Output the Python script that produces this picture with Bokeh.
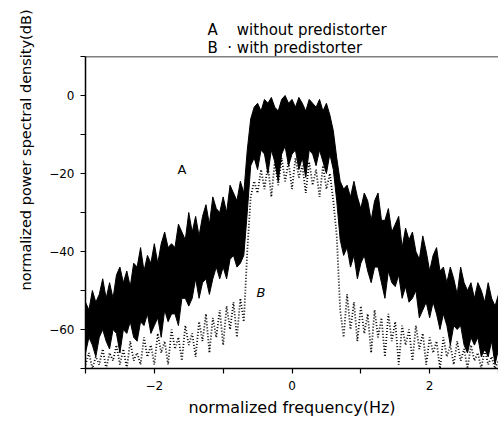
from bokeh.plotting import figure
from bokeh.models import FixedTicker, Span, Title, Label, Range1d
from bokeh.embed import file_html
from bokeh.resources import INLINE

# normalized frequency bins (Hz)
FREQ = [
    -3.00, -2.95, -2.90, -2.85, -2.80, -2.75, -2.70, -2.65, -2.60, -2.55,
    -2.50, -2.45, -2.40, -2.35, -2.30, -2.25, -2.20, -2.15, -2.10, -2.05,
    -2.00, -1.95, -1.90, -1.85, -1.80, -1.75, -1.70, -1.65, -1.60, -1.55,
    -1.50, -1.45, -1.40, -1.35, -1.30, -1.25, -1.20, -1.15, -1.10, -1.05,
    -1.00, -0.95, -0.90, -0.85, -0.80, -0.75, -0.70, -0.65, -0.60, -0.55,
    -0.50, -0.45, -0.40, -0.35, -0.30, -0.25, -0.20, -0.15, -0.10, -0.05,
    0.00, 0.05, 0.10, 0.15, 0.20, 0.25, 0.30, 0.35, 0.40, 0.45,
    0.50, 0.55, 0.60, 0.65, 0.70, 0.75, 0.80, 0.85, 0.90, 0.95,
    1.00, 1.05, 1.10, 1.15, 1.20, 1.25, 1.30, 1.35, 1.40, 1.45,
    1.50, 1.55, 1.60, 1.65, 1.70, 1.75, 1.80, 1.85, 1.90, 1.95,
    2.00, 2.05, 2.10, 2.15, 2.20, 2.25, 2.30, 2.35, 2.40, 2.45,
    2.50, 2.55, 2.60, 2.65, 2.70, 2.75, 2.80, 2.85, 2.90, 2.95,
    3.00,
]

# curve A (without predistorter): upper and lower edge of the noisy trace (dB)
A_UPPER = [
    -53, -55, -50, -53, -51, -47, -52, -48, -52, -46,
    -44, -48, -45, -49, -43, -44, -39, -45, -41, -43,
    -38, -43, -38, -35, -39, -38, -39, -33, -35, -37,
    -30, -35, -31, -36, -31, -28, -33, -26, -29, -30,
    -26, -30, -23, -25, -27, -22, -25, -14, -6, -3,
    -2, -4, -1, -2, -0.5, -3, -4, -1, 0, -2,
    -1, -3, -0.5, -2, -4, -1, -2, -3, -1, -4,
    -2, -5, -9, -16, -22, -24, -23, -26, -22, -26,
    -29, -25, -27, -32, -27, -25, -32, -32, -29, -35,
    -33, -31, -39, -34, -37, -35, -40, -42, -36, -40,
    -45, -41, -39, -45, -44, -48, -44, -47, -51, -44,
    -48, -50, -48, -52, -48, -50, -53, -48, -52, -54,
    -51,
]
A_LOWER = [
    -66, -62, -64, -67, -62, -60, -63, -65, -60, -61,
    -66, -60, -61, -58, -62, -63, -58, -59, -56, -61,
    -59, -57, -62, -55, -58, -56, -56, -59, -52, -52,
    -54, -52, -47, -52, -48, -47, -51, -47, -44, -47,
    -44, -47, -42, -41, -44, -43, -41, -30, -18, -16,
    -19, -14, -15, -20, -14, -17, -22, -15, -13, -18,
    -15, -14, -19, -16, -21, -14, -15, -18, -14, -17,
    -20, -15, -19, -27, -37, -41, -39, -44, -41, -47,
    -43, -41, -45, -48, -44, -44, -48, -52, -45, -48,
    -49, -46, -52, -49, -53, -52, -50, -57, -55, -53,
    -57, -53, -56, -60, -56, -59, -64, -59, -60, -59,
    -64, -66, -62, -64, -62, -67, -65, -67, -63, -69,
    -65,
]

# curve B (with predistorter): dotted noisy trace (dB)
B_TRACE = [
    -69, -66, -70, -67, -69, -65, -70, -66, -68, -64,
    -69, -65, -70, -63, -68, -66, -69, -62, -67, -64,
    -69, -61, -66, -63, -69, -60, -65, -62, -68, -59,
    -64, -61, -67, -58, -63, -56, -66, -57, -62, -55,
    -64, -54, -60, -53, -62, -52, -58, -40, -26, -22,
    -25, -19, -24, -18, -26, -17, -23, -16, -22, -17,
    -24, -16, -21, -18, -25, -17, -23, -19, -26, -18,
    -24, -20, -27, -36, -55, -62, -51, -60, -53, -63,
    -54, -61, -56, -66, -55, -62, -57, -67, -56, -63,
    -58, -69, -59, -64, -60, -68, -59, -65, -61, -69,
    -62, -66, -63, -70, -62, -67, -64, -69, -63, -68,
    -65, -70, -64, -68, -66, -70, -65, -69, -67, -70,
    -68,
]

X_MAJOR = [-2, 0, 2]
X_MINOR = [-3, -1, 1, 3]
Y_MAJOR = [-60, -40, -20, 0]
Y_MINOR = [-70, -50, -30, -10, 10]

FONT = "DejaVu Sans"
NB = "\u00a0"

p = figure(width=498, height=424, x_range=Range1d(-3, 3), y_range=Range1d(-70, 10),
           output_backend="svg", toolbar_location=None,
           min_border_left=85, min_border_right=0, min_border_top=56, min_border_bottom=56)
p.outline_line_color = None
p.grid.visible = False
p.background_fill_color = "white"
p.border_fill_color = "white"

# curve A as a filled noisy band
p.varea(x=FREQ, y1=A_LOWER, y2=A_UPPER, fill_color="black")
p.line(x=FREQ, y=A_UPPER, line_color="black", line_width=1)
p.line(x=FREQ, y=A_LOWER, line_color="black", line_width=1)
# curve B dotted
p.line(x=FREQ, y=B_TRACE, line_color="black", line_width=1.8, line_dash="1 2")

# top frame line
p.add_layout(Span(location=10, dimension="width", line_color="black", line_width=1.5))

for ax in (p.xaxis[0], p.yaxis[0]):
    ax.axis_line_width = 1.5
    ax.axis_line_color = "black"
    ax.major_tick_line_color = "black"
    ax.minor_tick_line_color = "black"
    ax.major_tick_line_width = 1.2
    ax.minor_tick_line_width = 1.2
    ax.major_tick_in = 0
    ax.major_tick_out = 5
    ax.minor_tick_in = 0
    ax.minor_tick_out = 5
    ax.major_label_text_font = FONT
    ax.major_label_text_font_size = "12px"
    ax.major_label_text_color = "black"
    ax.axis_label_text_font = FONT
    ax.axis_label_text_font_style = "normal"
    ax.axis_label_text_color = "black"

p.xaxis[0].ticker = FixedTicker(ticks=X_MAJOR, minor_ticks=X_MINOR)
p.yaxis[0].ticker = FixedTicker(ticks=Y_MAJOR, minor_ticks=Y_MINOR)
p.xaxis[0].major_label_standoff = 7
p.yaxis[0].major_label_standoff = 6
p.xaxis[0].axis_label = "normalized frequency(Hz)"
p.xaxis[0].axis_label_text_font_size = "16px"
p.xaxis[0].axis_label_standoff = 5

# y-axis label, placed high on the left as in the original
p.add_layout(Title(text="normalized power spectral density(dB)", text_font=FONT,
                   text_font_size="14.5px", text_font_style="normal", text_color="black",
                   align="left", vertical_align="top", offset=78, standoff=22), "left")

# legend lines above the plot
p.add_layout(Title(text="B" + NB * 2 + "\u00b7" + NB + "with predistorter", text_font=FONT,
                   text_font_size="15px", text_font_style="normal", text_color="black",
                   align="left", offset=122, standoff=0), "above")
p.add_layout(Title(text="A" + NB * 4 + "without predistorter", text_font=FONT,
                   text_font_size="15px", text_font_style="normal", text_color="black",
                   align="left", offset=122, standoff=-4), "above")

p.add_layout(Label(x=-1.6, y=-19, text="A", text_font=FONT, text_font_size="13px",
                   text_align="center", text_baseline="middle", text_color="black"))
p.add_layout(Label(x=-0.45, y=-50.5, text="B", text_font=FONT, text_font_size="13px",
                   text_font_style="italic", text_align="center", text_baseline="middle",
                   text_color="black"))

open("out.html", "w").write(file_html(p, INLINE))
